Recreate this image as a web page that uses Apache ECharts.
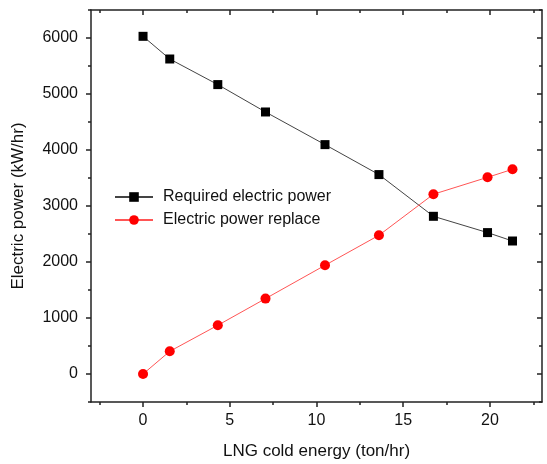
<!DOCTYPE html>
<html lang="en">
<head>
    <meta charset="UTF-8">
    <title>LNG cold energy</title>
    <script type="text/javascript" src="https://cdn.jsdelivr.net/npm/echarts@6/dist/echarts.min.js"></script>
</head>
<body style="margin:0">
<div id="main" style="width: 547px; height: 464px"></div>

<script type="text/javascript">
    // data
    var lngEnergy = [0, 1.54, 4.31, 7.06, 10.49, 13.6, 16.74, 19.86, 21.3];
    var requiredPower = [6030, 5625, 5168, 4679, 4096, 3561, 2816, 2525, 2375];
    var replacePower = [0, 405, 870, 1346, 1941, 2477, 3210, 3512, 3655];

    var xMajor = [0, 5, 10, 15, 20];
    var xMinor = [-2.5, 2.5, 7.5, 12.5, 17.5, 22.5];
    var yMajor = [0, 1000, 2000, 3000, 4000, 5000, 6000];
    var yMinor = [-500, 500, 1500, 2500, 3500, 4500, 5500, 6500];

    function pairs(xs, ys) {
        var out = [];
        for (var i = 0; i < xs.length; i++) out.push([xs[i], ys[i]]);
        return out;
    }

    var font = 'Liberation Sans, Arial, sans-serif';
    var lineCol = '#222';

    // one helper for the frame axes, ticks only
    function tickAxis(pos, min, max, vals, len, inside, showLine) {
        return {
            type: 'value', position: pos, min: min, max: max,
            axisLine: {show: showLine, onZero: false, lineStyle: {color: lineCol, width: 1.5}},
            axisTick: {show: true, inside: inside, length: len, customValues: vals,
                lineStyle: {color: lineCol, width: 1.5}},
            axisLabel: {show: false},
            splitLine: {show: false}
        };
    }

    var myChart = echarts.init(document.getElementById('main'));

    var option = {
        animation: false,
        backgroundColor: '#fff',
        grid: {left: 91, top: 10, right: 5, bottom: 62, outerBoundsMode: 'none'},
        legend: {
            orient: 'vertical', left: 109, top: 184,
            itemWidth: 38, itemHeight: 12, itemGap: 7,
            textStyle: {fontFamily: font, fontSize: 16, color: '#111', padding: [0, 0, 0, 5]},
            data: ['Required electric power', 'Electric power replace']
        },
        xAxis: [
            {
                type: 'value', position: 'bottom', min: -3, max: 23,
                name: 'LNG cold energy (ton/hr)', nameLocation: 'middle', nameGap: 41,
                nameTextStyle: {fontFamily: font, fontSize: 17, color: '#111'},
                axisLine: {show: true, onZero: false, lineStyle: {color: lineCol, width: 1.5}},
                axisTick: {show: true, length: 5, customValues: xMajor, lineStyle: {color: lineCol, width: 1.5}},
                axisLabel: {customValues: xMajor, margin: 11, fontFamily: font, fontSize: 16, color: '#111',
                    formatter: function (v) { return String(v); }},
                splitLine: {show: false}
            },
            tickAxis('bottom', -3, 23, xMinor, 3, false, false),
            tickAxis('top', -3, 23, xMajor, 5, true, true),
            tickAxis('top', -3, 23, xMinor, 3, true, false)
        ],
        yAxis: [
            {
                type: 'value', position: 'left', min: -500, max: 6500,
                name: 'Electric power (kW/hr)', nameLocation: 'middle', nameGap: 64,
                nameTextStyle: {fontFamily: font, fontSize: 17, color: '#111'},
                axisLine: {show: true, onZero: false, lineStyle: {color: lineCol, width: 1.5}},
                axisTick: {show: true, length: 5, customValues: yMajor, lineStyle: {color: lineCol, width: 1.5}},
                axisLabel: {customValues: yMajor, margin: 13, fontFamily: font, fontSize: 16, color: '#111',
                    formatter: function (v) { return String(v); }},
                splitLine: {show: false}
            },
            tickAxis('left', -500, 6500, yMinor, 3, false, false),
            tickAxis('right', -500, 6500, yMajor, 5, true, true),
            tickAxis('right', -500, 6500, yMinor, 3, true, false)
        ],
        series: [
            {
                name: 'Required electric power',
                type: 'line',
                data: pairs(lngEnergy, requiredPower),
                symbol: 'rect', symbolSize: 9,
                itemStyle: {color: '#000'},
                lineStyle: {color: '#444', width: 1}
            },
            {
                name: 'Electric power replace',
                type: 'line',
                data: pairs(lngEnergy, replacePower),
                symbol: 'circle', symbolSize: 10,
                itemStyle: {color: '#ff0000'},
                lineStyle: {color: '#ff5555', width: 1}
            }
        ]
    };

    myChart.setOption(option);
</script>
</body>
</html>
